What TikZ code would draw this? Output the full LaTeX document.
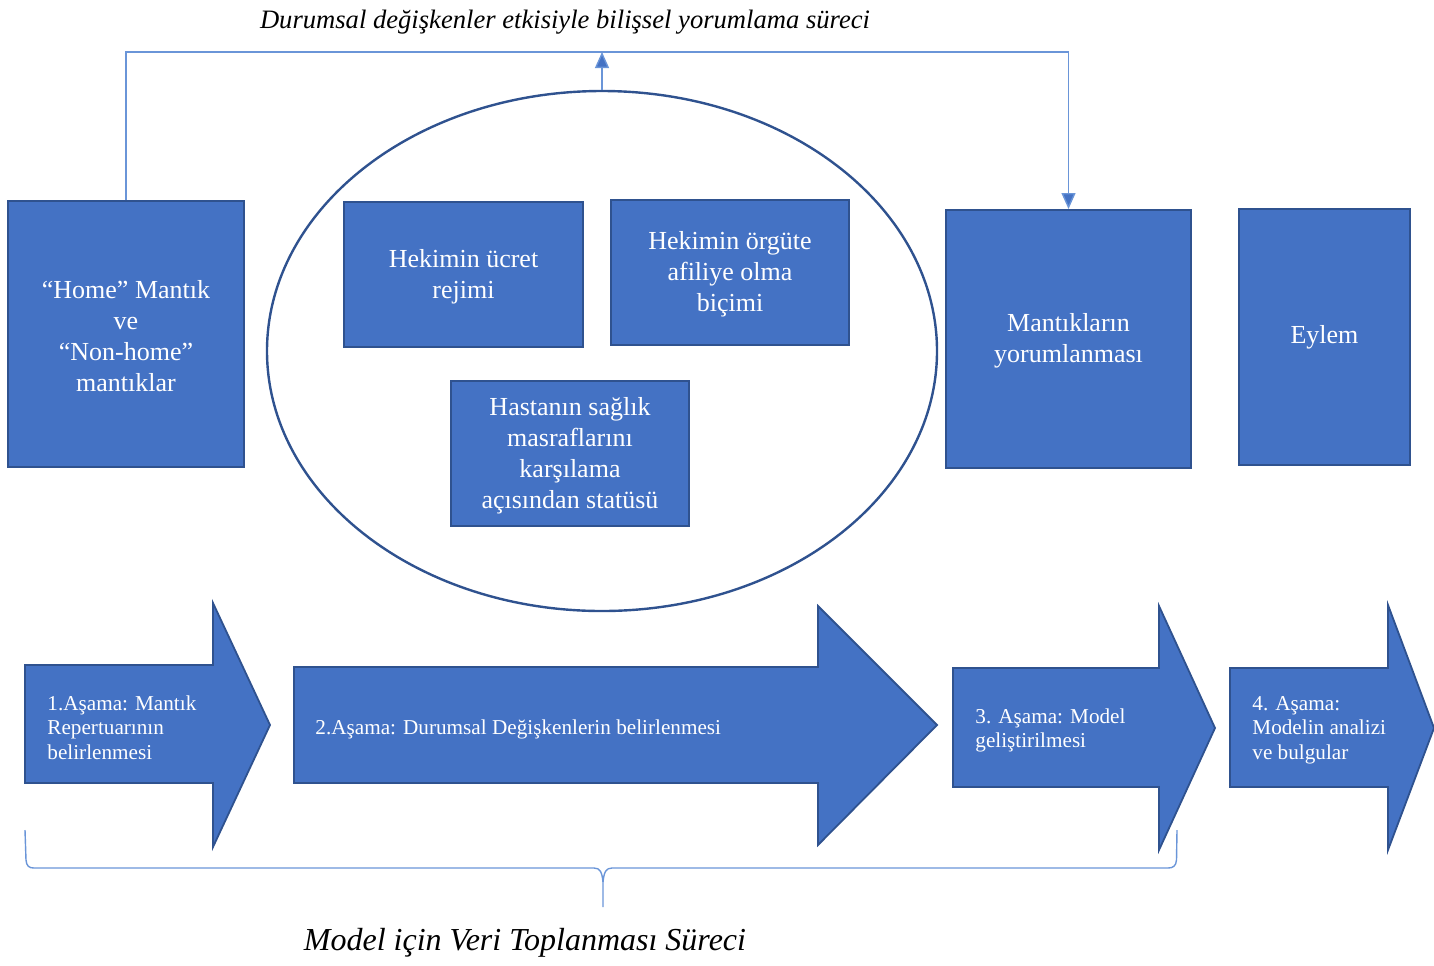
\documentclass[tikz,border=0pt]{standalone}
\usepackage{fontspec}
\setmainfont{Liberation Serif}
\usetikzlibrary{arrows.meta,shapes.geometric}
\definecolor{boxfill}{HTML}{4472C4}
\definecolor{boxedge}{HTML}{2F528F}
\definecolor{linkblue}{HTML}{6A95D8}
\tikzset{
  box/.style={draw=boxedge,line width=1pt,fill=boxfill,text=white,align=center,
    inner sep=0pt,font=\fontsize{13}{15.5}\selectfont},
  stage/.style={draw=boxedge,line width=0.9pt,fill=boxfill},
  stagetext/.style={text=white,anchor=west,align=left,inner sep=0pt,
    font=\fontsize{10.6}{12.3}\selectfont},
  link/.style={draw=linkblue,line width=0.7pt},
  tip/.style={-{Triangle[length=8pt,width=7pt,fill=boxfill]}},
  caption/.style={font=\itshape,inner sep=0pt}
}
\begin{document}
\begin{tikzpicture}[x=0.5pt,y=-0.5pt]
\useasboundingbox (0,0) rectangle (1434,965);

% top caption
\node[caption,font=\fontsize{13.3}{15}\selectfont\itshape] (toplabel) at (565,22)
  {Durumsal değişkenler etkisiyle bilişsel yorumlama süreci};

% ellipse holding the situational variables
\node[draw=boxedge,line width=1.2pt,ellipse,minimum width=335pt,minimum height=260pt,
  inner sep=0pt] (ell) at (602,351) {};

% logic boxes
\node[box,minimum width=118pt,minimum height=133pt] (home) at (126,334)
  {\strut“Home” Mantık\\ve\\“Non-home”\\mantıklar};
\node[box,minimum width=119.5pt,minimum height=72.5pt] (ucret) at (463.5,274.5)
  {\strut Hekimin ücret\\rejimi};
\node[box,minimum width=119pt,minimum height=72.5pt] (orgut) at (730,272.5)
  {\strut Hekimin örgüte\\afiliye olma\\biçimi};
\node[box,minimum width=119pt,minimum height=72.5pt] (hasta) at (570,453.5)
  {\strut Hastanın sağlık\\masraflarını\\karşılama\\açısından statüsü};
\node[box,minimum width=122.5pt,minimum height=129pt] (mant) at (1068.5,339)
  {\strut Mantıkların\\yorumlanması};
\node[box,minimum width=85.5pt,minimum height=128pt] (eylem) at (1324.5,337)
  {\strut Eylem};

% feedback connector over the top
\coordinate (apex) at (ell.north |- 0,52);
\draw[link,tip] (home.north) |- (apex) -| (mant.north);
\draw[link,tip] (ell.north) -- (apex);

% stage arrows
\draw[stage] (25,665) -- (213,665) -- (213,603) -- (270,725) -- (213,847)
  -- (213,783) -- (25,783) -- cycle;
\draw[stage] (294,667) -- (818,667) -- (818,606) -- (937,725) -- (818,845)
  -- (818,783) -- (294,783) -- cycle;
\draw[stage] (953,668) -- (1159,668) -- (1159,606) -- (1215,728) -- (1159,850)
  -- (1159,787) -- (953,787) -- cycle;
\draw[stage] (1230,668) -- (1388,668) -- (1388,605) -- (1434,728) -- (1388,850)
  -- (1388,787) -- (1230,787) -- cycle;

\node[stagetext] (s1) at (47,727.5) {1.Aşama: Mantık\\Repertuarının\\belirlenmesi};
\node[stagetext] (s2) at (315,729.5) {2.Aşama: Durumsal Değişkenlerin belirlenmesi};
\node[stagetext] (s3) at (975,730.5) {3. Aşama: Model\\geliştirilmesi};
\node[stagetext] (s4) at (1252,730) {4. Aşama:\\Modelin analizi\\ve bulgular};

% brace under the data collection stages
\draw[link] (25,830) -- (26,860) .. controls (26.5,866) and (29,868) .. (34,868)
  -- (594,868) .. controls (600,868) and (602,872) .. (603,882) -- (603,907);
\draw[link] (603,882) .. controls (604,872) and (606,868) .. (612,868)
  -- (1168,868) .. controls (1173,868) and (1176,866) .. (1176.5,860) -- (1177,830);

% bottom caption
\node[caption,font=\fontsize{16}{18}\selectfont\itshape] (botlabel) at (525,943)
  {Model için Veri Toplanması Süreci};
\end{tikzpicture}
\end{document}
